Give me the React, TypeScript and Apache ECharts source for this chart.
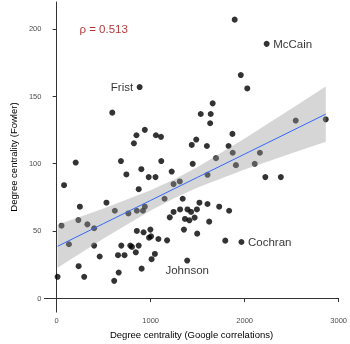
import React, { useEffect, useRef } from "react";
import * as echarts from "echarts";

// Degree centrality (Google correlations) vs Degree centrality (Fowler)
const xVals = [
  883, 592, 938, 849, 822, 1056, 1110, 203, 684, 1113,
  901, 1224, 1894, 2234, 1959, 2028, 1660, 1533, 1639, 1633,
  2543, 2863, 1870, 1437, 1485, 1598, 1829, 1873, 2162, 1695,
  1447, 1907, 2107, 2220, 2385, 1605, 1310, 1341, 1313, 1392,
  1430, 1492, 1519, 1605, 1729, 1835, 1365, 1412, 1468, 1623,
  1354, 1495, 1794, 1966, 1389, 10, 52, 79, 131, 231,
  247, 234, 293, 327, 399, 399, 458, 530, 619, 612,
  653, 660, 688, 722, 742, 763, 784, 801, 842, 853,
  853, 873, 873, 904, 925, 918, 938, 979, 997, 983,
  1004, 1010, 1045, 1052, 1082, 1148, 1175, 1203, 1244, 1244,
];
const yVals = [
  156.8, 137.8, 125, 121, 115, 121, 119.8, 100.7, 101.8, 101.8,
  95.8, 94, 206.9, 188.9, 165.7, 155.8, 144.7, 136.8, 136.8, 129.9,
  131.9, 132.8, 122, 113.8, 117.8, 113, 113, 108, 108, 104,
  99.8, 98.8, 99.8, 89.9, 89.9, 91.6, 86.7, 73.8, 65.9, 65.9,
  64, 65.9, 70.9, 69.9, 67.9, 64.9, 58.8, 57.8, 59.8, 56.8,
  50.9, 47.9, 42.7, 41.7, 27.9, 15.8, 53.8, 83.9, 40, 58,
  67.9, 23.7, 15.8, 54.8, 51.9, 39, 30.9, 70.9, 64.9, 12.8,
  31.9, 19, 39, 31.9, 91.9, 62.9, 39, 38, 34, 49.9,
  64.9, 80.9, 39, 21.9, 48.9, 64.9, 67.9, 89.9, 50.9, 44.9,
  45.9, 28.9, 32.8, 89.9, 43.9, 73.8, 42.9, 60, 64, 84.7,
];

// Labelled senators
const labelNames = ["Frist", "McCain", "Cochran", "Johnson"];
const labelX = [883, 2234, 1966, 1389];
const labelY = [156.8, 188.9, 41.7, 27.9];
const labelPos = ["left", "right", "right", "bottom"];

// Linear fit and its confidence band
const fitX = [10, 500, 1000, 1250, 1500, 2000, 2500, 2863];
const fitY = [38.5, 55.4, 72.6, 81.2, 89.8, 107.0, 124.2, 136.7];
const bandLow = [22.5, 44.3, 65.1, 74.2, 82.1, 95.5, 107.6, 116.1];
const bandHigh = [54.5, 66.5, 80.1, 88.2, 97.5, 118.5, 140.8, 157.3];

// Correlation annotation
const rhoText = "ρ = 0.513";
const rhoPos = [500, 200];

const xTicks = [0, 1000, 2000, 3000];
const yTicks = [0, 50, 100, 150, 200];

const FONT = "'Liberation Sans', Arial, Helvetica, sans-serif";

export default function App() {
  const ref = useRef<HTMLDivElement>(null);
  useEffect(() => {
    if (!ref.current) return;
    const chart = echarts.init(ref.current, null, { renderer: "svg" });
    const axisCommon = {
      type: "value" as const,
      splitLine: { show: false },
      axisLine: { show: true, lineStyle: { color: "#333", width: 1 } },
      axisTick: { show: true, length: 4, lineStyle: { color: "#333", width: 1 } },
      axisLabel: {
        color: "#4d4d4d",
        fontSize: 7.5,
        fontFamily: FONT,
        formatter: (v: number) => String(v),
      },
      nameTextStyle: { color: "#000", fontSize: 9.5, fontFamily: FONT },
      nameLocation: "middle" as const,
    };
    chart.setOption({
      animation: false,
      textStyle: { fontFamily: FONT },
      grid: { left: 38, right: 9, top: 2, bottom: 31, containLabel: false },
      xAxis: {
        ...axisCommon,
        min: -130,
        max: 3000,
        name: "Degree centrality (Google correlations)",
        nameGap: 14,
        axisTick: { ...axisCommon.axisTick, customValues: xTicks },
        axisLabel: { ...axisCommon.axisLabel, customValues: xTicks, margin: 4 },
      },
      yAxis: {
        ...axisCommon,
        min: -10.4,
        max: 220,
        name: "Degree centrality (Fowler)",
        nameGap: 20,
        axisTick: { ...axisCommon.axisTick, customValues: yTicks },
        axisLabel: { ...axisCommon.axisLabel, customValues: yTicks, margin: 3 },
      },
      series: [
        {
          type: "scatter",
          data: xVals.map((x, i) => [x, yVals[i]]),
          symbolSize: 6,
          itemStyle: { color: "#000" },
          z: 2,
        },
        {
          type: "custom",
          data: [[fitX[0], fitY[0]]],
          z: 3,
          silent: true,
          renderItem: (params: any, api: any) => {
            const pts: number[][] = [];
            for (let i = 0; i < fitX.length; i++) pts.push(api.coord([fitX[i], bandHigh[i]]));
            for (let i = fitX.length - 1; i >= 0; i--) pts.push(api.coord([fitX[i], bandLow[i]]));
            return {
              type: "polygon",
              shape: { points: pts },
              style: { fill: "rgba(153,153,153,0.4)", stroke: "none" },
            };
          },
        },
        {
          type: "line",
          data: fitX.map((x, i) => [x, fitY[i]]),
          showSymbol: false,
          lineStyle: { color: "#3366FF", width: 1 },
          z: 4,
        },
        {
          type: "scatter",
          data: labelX.map((x, i) => ({
            value: [x, labelY[i]],
            label: {
              show: true,
              formatter: labelNames[i],
              position: labelPos[i],
              distance: labelPos[i] === "bottom" ? 0 : 3.5,
            },
          })),
          symbolSize: 6,
          itemStyle: { color: "rgba(0,0,0,0)" },
          label: { color: "#000", fontSize: 11.5, fontFamily: FONT },
          z: 5,
        },
        {
          type: "scatter",
          data: [rhoPos],
          symbolSize: 1,
          itemStyle: { color: "rgba(0,0,0,0)" },
          label: {
            show: true,
            position: "inside",
            formatter: rhoText,
            color: "#9a0000",
            fontSize: 11.5,
            fontFamily: FONT,
          },
          z: 5,
        },
      ],
    });
    return () => chart.dispose();
  }, []);
  return (
    <div
      ref={ref}
      style={{ position: "fixed", left: 0, top: 0, width: 350, height: 344 }}
    />
  );
}
